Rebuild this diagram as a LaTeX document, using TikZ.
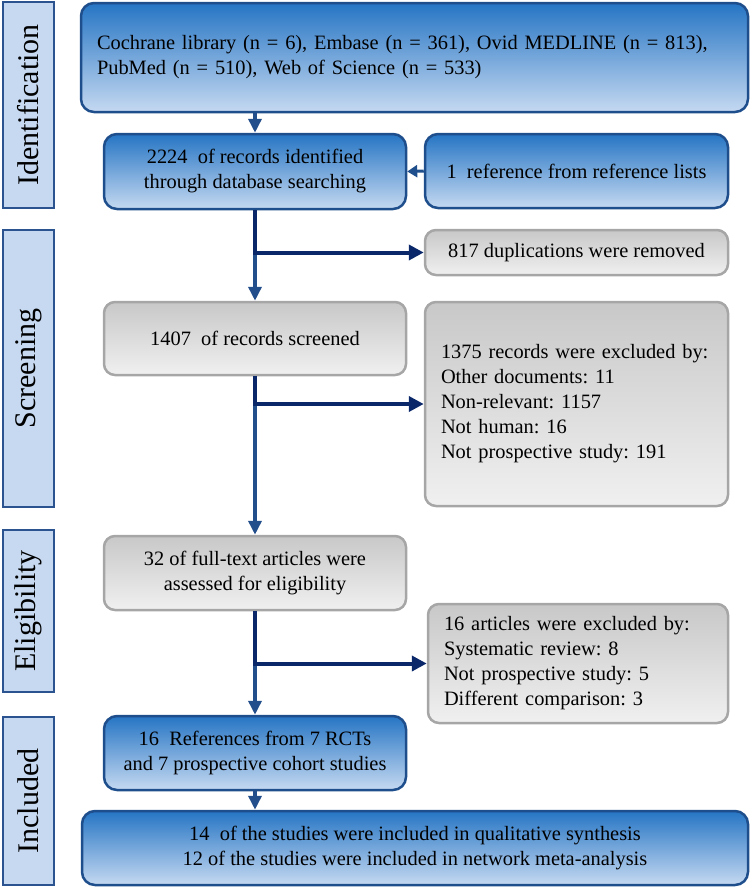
\documentclass[tikz,border=0pt]{standalone}
\usepackage{fontspec}
\setmainfont{Liberation Serif}
\usetikzlibrary{positioning}
\usetikzlibrary{calc}
\usetikzlibrary{arrows.meta}
\definecolor{blueTop}{RGB}{38,117,196}
\definecolor{blueBot}{RGB}{197,217,241}
\definecolor{blueLine}{RGB}{31,78,140}
\definecolor{grayTop}{RGB}{200,200,200}
\definecolor{grayBot}{RGB}{240,240,240}
\definecolor{grayLine}{RGB}{166,166,166}
\definecolor{stageFill}{RGB}{198,217,241}
\definecolor{stageLine}{RGB}{42,83,143}
\definecolor{flowBlue}{RGB}{34,78,140}
\definecolor{navy}{RGB}{10,40,105}
\frenchspacing

\begin{document}
\begin{tikzpicture}[x=1pt, y=-1pt,
        stage/.style={rectangle, draw=stageLine, fill=stageFill, line width=2.5pt, rotate=90, minimum height=51pt, inner sep=0pt, font=\fontsize{30}{34}\selectfont},
        bluebox/.style={rectangle, rounded corners=13pt, draw=blueLine, line width=2.5pt, top color=blueTop, middle color=blueBot, bottom color=blueBot, align=center, inner sep=0pt, font=\fontsize{20.4}{25}\selectfont},
        graybox/.style={rectangle, rounded corners=11pt, draw=grayLine, line width=2.5pt, top color=grayTop, bottom color=grayBot, align=center, inner sep=0pt, font=\fontsize{20.4}{25}\selectfont},
        leftbox/.style={align=left, inner xsep=16pt},
        flow/.style={draw=flowBlue, line width=4pt, -{Triangle[width=13pt,length=14pt]}},
        branch/.style={draw=navy, line width=4pt, -{Triangle[width=15pt,length=15pt]}},
        ]
            \useasboundingbox (0,0) rectangle (752,889);

            % stages on the left
            \node[stage, minimum width=206pt] (lblId) at (28.5,105) {Identification};
            \node[stage, minimum width=277pt] (lblScr) at (28.5,368.5) {Screening};
            \node[stage, minimum width=162pt] (lblElg) at (28.5,611) {Eligibility};
            \node[stage, minimum width=168pt] (lblInc) at (28.5,801) {Included};

            % boxes
            \node[bluebox, leftbox, text width=635pt, minimum height=109pt] (srcs) at (414.5,57.5)
                {Cochrane library (n = 6), Embase (n = 361), Ovid MEDLINE (n = 813),\\
                PubMed (n = 510), Web of Science (n = 533)};
            \node[bluebox, minimum width=302pt, minimum height=75pt] (ident) at (255,171.5)
                {2224\ \ of records identified\\through database searching};
            \node[bluebox, minimum width=303pt, minimum height=74pt] (other) at (576.5,171)
                {1\ \ reference from reference lists};
            \node[graybox, minimum width=303pt, minimum height=45pt] (dup) at (576.5,252.5)
                {817 duplications were removed};
            \node[graybox, minimum width=302pt, minimum height=73pt] (screened) at (255,338.5)
                {1407\ \ of records screened};
            \node[graybox, leftbox, text width=271pt, minimum height=204pt] (excl1) at (576.5,404)
                {1375 records were excluded by:\\
                Other documents: 11\\
                Non-relevant: 1157\\
                Not human: 16\\
                Not prospective study: 191};
            \node[graybox, minimum width=302pt, minimum height=74pt] (full) at (255,573)
                {32 of full-text articles were\\assessed for eligibility};
            \node[graybox, leftbox, text width=268pt, minimum height=119pt] (excl2) at (578,663.5)
                {16 articles were excluded by:\\
                Systematic review: 8\\
                Not prospective study: 5\\
                Different comparison: 3};
            \node[bluebox, minimum width=302pt, minimum height=74pt] (incl) at (255,753)
                {16\ \ References from 7 RCTs\\and 7 prospective cohort studies};
            \node[bluebox, minimum width=666pt, minimum height=74pt] (final) at (415,848)
                {14\ \ of the studies were included in qualitative synthesis\\
                12 of the studies were included in network meta-analysis};

            % arrows
            \draw[flow] (ident |- srcs.south) -- (ident.north);
            \draw[draw=blueLine, line width=3pt, -{Triangle[width=12pt,length=10pt]}] (other.west) -- (ident.east);
            \draw[flow] (ident) -- (screened);
            \draw[branch] (ident.south) |- (dup.west);
            \draw[flow] (screened) -- (full);
            \draw[branch] (screened.south) |- (excl1.west);
            \draw[flow] (full) -- (incl);
            \draw[branch] (full.south) |- (excl2.west);
            \draw[flow] (incl.south) -- (incl.south |- final.north);
        \end{tikzpicture}
\end{document}
